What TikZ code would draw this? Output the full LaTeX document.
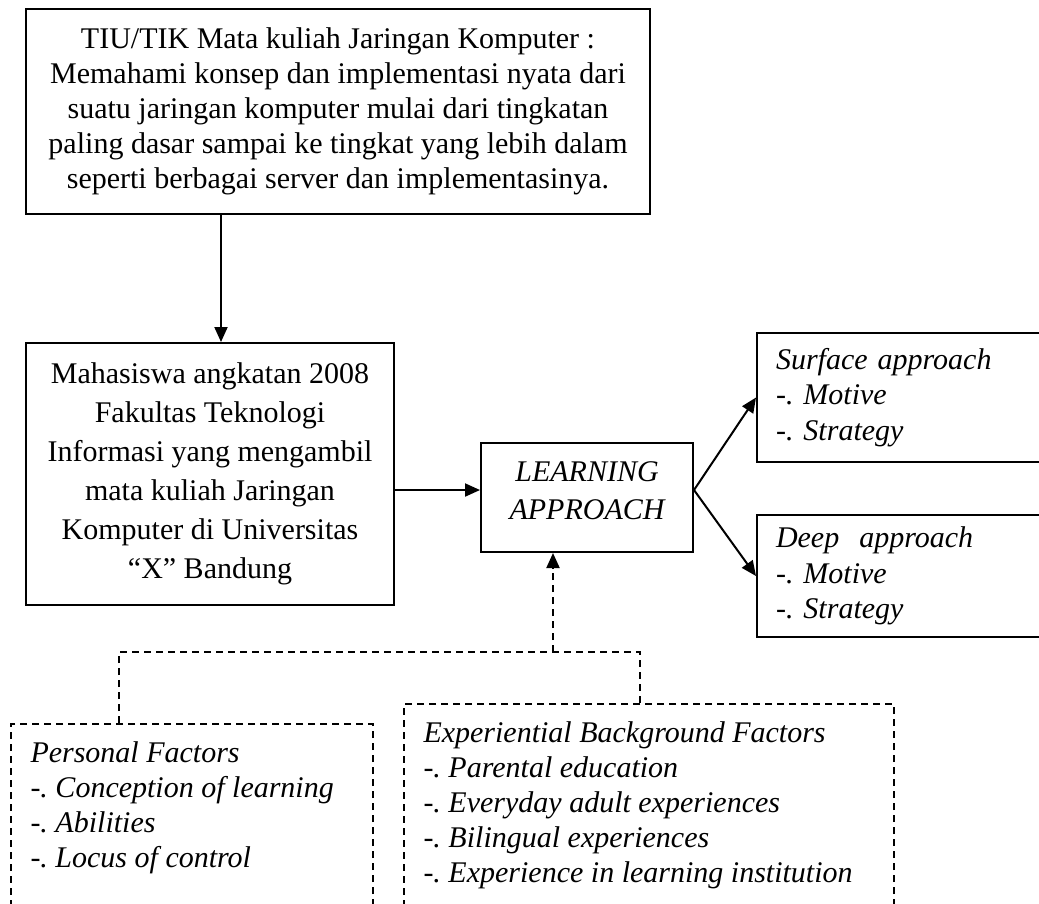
\documentclass[tikz,border=0pt]{standalone}
\usepackage{fontspec}
\setmainfont{Liberation Serif}
\usetikzlibrary{arrows.meta}
\frenchspacing

\begin{document}
\begin{tikzpicture}[x=0.4pt, y=-0.4pt,
    kotak/.style={draw, line width=0.8pt, inner sep=0pt, font=\fontsize{12}{14}\selectfont},
    kotakputus/.style={draw, line width=0.8pt, dash pattern=on 2.8pt off 2pt, anchor=north west,
        inner xsep=7.8pt, inner ysep=5.4pt, font=\fontsize{12}{14}\selectfont\itshape},
    panah/.style={-{Triangle[length=6pt,width=5.2pt]}, line width=0.8pt},
    putus/.style={line width=0.8pt, dash pattern=on 2.8pt off 2pt}]
    % Batas gambar
    \useasboundingbox (0,0) rectangle (1039,903);
    \clip (0,0) rectangle (1039,903);

    % Titik bantu
    \coordinate (turun) at (221,0);
    \coordinate (lamid) at (587,490);
    \coordinate (kiri) at (119,652);
    \coordinate (kanan) at (640,652);
    \coordinate (gabung) at (553,652);

    % Kotak TIU/TIK
    \node[kotak, minimum width=249.6pt, minimum height=82pt, align=center] (tiu) at (338,111.5)
        {TIU/TIK Mata kuliah Jaringan Komputer :\\
         Memahami konsep dan implementasi nyata dari\\
         suatu jaringan komputer mulai dari tingkatan\\
         paling dasar sampai ke tingkat yang lebih dalam\\
         seperti berbagai server dan implementasinya.};

    % Kotak mahasiswa
    \node[kotak, minimum width=147.2pt, minimum height=104.8pt, align=center,
        font=\fontsize{12}{15.6}\selectfont] (mhs) at (210,474)
        {Mahasiswa angkatan 2008\\Fakultas Teknologi\\Informasi yang mengambil\\
         mata kuliah Jaringan\\Komputer di Universitas\\“X” Bandung};

    % Learning approach
    \node[kotak, minimum width=84.8pt, minimum height=43.6pt, align=center, text depth=5.2pt,
        font=\fontsize{12}{15.2}\selectfont\itshape] (la) at (587,497.5) {LEARNING\\APPROACH};

    % Surface dan deep approach
    \node[kotak, anchor=west, minimum height=51.6pt, text width=150pt, inner xsep=7.6pt, align=left,
        font=\fontsize{12}{14.2}\selectfont\itshape] (surf) at (756,397.5)
        {Surface approach\\-. Motive\\-. Strategy};
    \node[kotak, anchor=west, minimum height=48.8pt, text width=150pt, inner xsep=7.6pt, align=left,
        font=\fontsize{12}{14.2}\selectfont\itshape] (deep) at (756,576)
        {Deep\ \ approach\\-. Motive\\-. Strategy};

    % Faktor-faktor
    \node[kotakputus] (pers) at (10,723)
        {\parbox[t][90pt][t]{129.2pt}{\raggedright\strut Personal Factors\\-. Conception of learning\\
         -. Abilities\\-. Locus of control}};
    \node[kotakputus] (exp) at (403,703)
        {\parbox[t][90pt][t]{180.4pt}{\raggedright\strut Experiential Background Factors\\
         -. Parental education\\-. Everyday adult experiences\\-. Bilingual experiences\\
         -. Experience in learning institution}};

    % Panah
    \draw[panah] (tiu.south -| turun) -- (mhs.north -| turun);
    \draw[panah] (mhs.east |- lamid) -- (la.west |- lamid);
    \draw[panah] (la.east |- lamid) -- (surf.west);
    \draw[panah] (la.east |- lamid) -- (deep.west);
    \draw[putus] (kiri |- pers.north) -- (kiri) -- (kanan) -- (kanan |- exp.north);
    \draw[putus, panah] (gabung) -- (gabung |- la.south);
\end{tikzpicture}
\end{document}
